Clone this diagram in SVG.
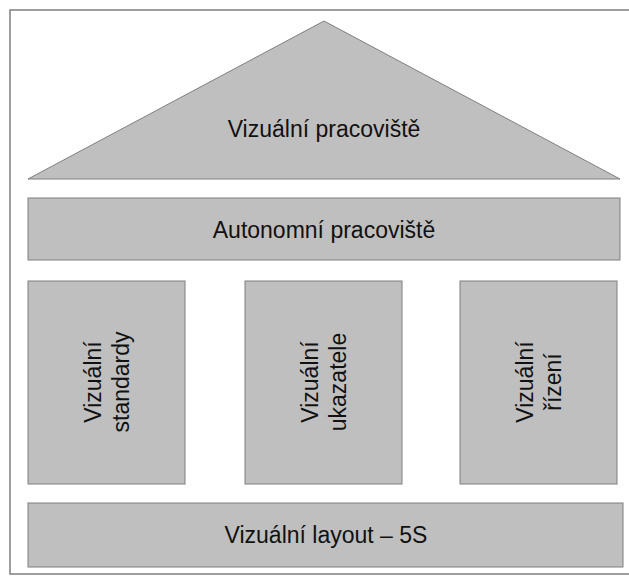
<svg xmlns="http://www.w3.org/2000/svg" width="629" height="576" viewBox="0 0 629 576">
<style>
.s{fill:#bfbfbf;stroke:#7f7f7f;stroke-width:1}
.t{font-family:"Liberation Sans",Arial,sans-serif;font-size:23px;fill:#111111;text-anchor:middle;dominant-baseline:central}
</style>
<rect width="629" height="576" fill="#ffffff"/>
<rect x="10" y="10" width="640" height="564" fill="#ffffff" stroke="#7f7f7f" stroke-width="1.5"/>
<g id="roof">
<polygon class="s" points="324,21 28,179 620,179"/>
<text class="t" x="324" y="129">Vizuální pracoviště</text>
</g>
<g id="autonomni">
<rect class="s" x="28" y="198" width="592" height="62"/>
<text class="t" x="324" y="230">Autonomní pracoviště</text>
</g>
<g id="standardy">
<rect class="s" x="28" y="281" width="157" height="203"/>
<text class="t" transform="translate(107,382) rotate(-90)"><tspan x="0" y="-14">Vizuální</tspan><tspan x="0" y="14">standardy</tspan></text>
</g>
<g id="ukazatele">
<rect class="s" x="245" y="281" width="157" height="203"/>
<text class="t" transform="translate(324,382) rotate(-90)"><tspan x="0" y="-14">Vizuální</tspan><tspan x="0" y="14">ukazatele</tspan></text>
</g>
<g id="rizeni">
<rect class="s" x="460" y="281" width="157" height="203"/>
<text class="t" transform="translate(539,382) rotate(-90)"><tspan x="0" y="-14">Vizuální</tspan><tspan x="0" y="14">řízení</tspan></text>
</g>
<g id="layout">
<rect class="s" x="28" y="503" width="595" height="64"/>
<text class="t" x="326" y="535">Vizuální layout – 5S</text>
</g>
<g id="connectors"></g>
</svg>
